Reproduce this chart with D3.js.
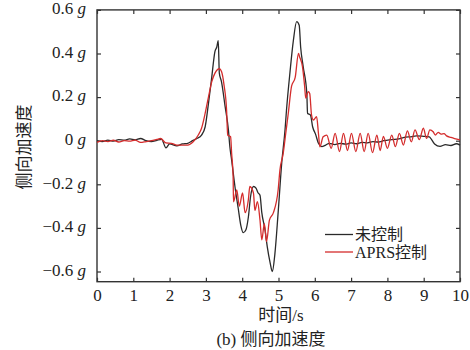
<!DOCTYPE html>
<html><head><meta charset="utf-8">
<script src="https://cdn.jsdelivr.net/npm/d3@7"></script>
<style>
html,body{margin:0;padding:0;background:#fff;}
svg{display:block;}
text{font-family:"Liberation Serif","Noto Sans CJK SC",serif;fill:#222;}
</style></head>
<body>
<svg id="chart" width="470" height="350"></svg>
<script>
// ---- data ----
const xTicks = [0,1,2,3,4,5,6,7,8,9,10];
const yTicks = [-0.6,-0.4,-0.2,0,0.2,0.4,0.6];
const yTickLabels = ["\u22120.6","\u22120.4","\u22120.2","0","0.2","0.4","0.6"];
const seriesNames = ["未控制","APRS控制"];

const blackT = [0,0.15,0.3,0.45,0.6,0.75,0.9,1.05,1.2,1.35,1.5,1.65,1.78,1.9,2.0,2.2,2.35,2.5,2.63,2.75,2.88,2.98,3.07,3.16,3.25,3.30,3.34,3.37,3.43,3.53,3.62,3.66,3.71,3.80,3.89,3.96,4.03,4.10,4.17,4.23,4.31,4.38,4.44,4.49,4.54,4.63,4.69,4.77,4.83,4.90,4.99,5.09,5.18,5.22,5.32,5.41,5.50,5.57,5.61,5.68,5.78,5.80,5.88,5.94,6.02,6.10,6.19,6.3,6.4,6.55,6.7,6.85,7.0,7.15,7.3,7.45,7.6,7.75,7.9,8.05,8.2,8.35,8.5,8.65,8.8,9.0,9.15,9.3,9.45,9.6,9.75,9.9,10];
const blackV = [0,-0.004,0.003,-0.002,0.005,0.002,0.008,0.004,0.010,0.000,-0.004,0.002,0.006,-0.033,-0.015,-0.024,-0.015,-0.012,0.000,0.010,0.026,0.064,0.17,0.29,0.41,0.43,0.459,0.31,0.27,0.156,0.05,-0.028,-0.09,-0.21,-0.31,-0.387,-0.422,-0.41,-0.35,-0.257,-0.21,-0.218,-0.24,-0.25,-0.33,-0.41,-0.486,-0.56,-0.60,-0.52,-0.33,-0.10,0.05,0.14,0.32,0.46,0.546,0.53,0.43,0.34,0.217,0.126,0.118,0.064,0.03,-0.012,-0.027,-0.02,-0.012,-0.018,-0.012,-0.016,-0.01,-0.014,-0.008,-0.01,-0.004,-0.006,0.0,0.004,0.006,0.01,0.016,0.018,0.022,0.02,0.018,-0.015,-0.026,-0.018,-0.022,-0.014,-0.02];

const redT = [0,0.15,0.3,0.45,0.6,0.75,0.9,1.05,1.2,1.35,1.5,1.65,1.75,1.9,2.05,2.2,2.35,2.5,2.65,2.79,2.88,2.98,3.07,3.16,3.25,3.37,3.43,3.50,3.57,3.60,3.68,3.71,3.75,3.76,3.85,3.92,4.01,4.08,4.17,4.21,4.31,4.35,4.42,4.49,4.54,4.61,4.67,4.75,4.86,4.99,5.04,5.13,5.20,5.27,5.36,5.46,5.55,5.58,5.66,5.72,5.75,5.82,5.86,5.91,5.96,6.05,6.10,6.14,6.23,6.33,6.45,6.56,6.68,6.79,6.90,7.01,7.13,7.25,7.36,7.47,7.59,7.71,7.80,7.89,8.00,8.12,8.22,8.33,8.44,8.55,8.66,8.76,8.88,8.99,9.08,9.17,9.26,9.32,9.40,9.48,9.56,9.63,9.75,9.85,10];
const redV = [-0.008,0.0,-0.004,0.002,-0.006,0.0,-0.002,0.003,-0.008,-0.004,0.000,0.006,0.010,-0.010,-0.012,-0.020,-0.020,-0.020,-0.005,0.026,0.057,0.126,0.20,0.27,0.31,0.33,0.317,0.255,0.14,0.026,0.018,-0.06,-0.165,-0.28,-0.226,-0.30,-0.24,-0.33,-0.27,-0.21,-0.24,-0.32,-0.28,-0.364,-0.455,-0.38,-0.463,-0.364,-0.33,-0.226,-0.134,-0.058,0.034,0.126,0.25,0.29,0.40,0.385,0.34,0.25,0.195,0.225,0.217,0.118,0.095,0.11,0.034,-0.028,0.018,0.026,-0.035,0.034,-0.05,0.034,-0.045,0.034,-0.05,0.034,-0.05,0.034,-0.055,0.026,-0.045,0.02,-0.035,0.026,-0.027,0.034,-0.02,0.045,-0.005,0.05,0.005,0.057,0.011,0.05,0.041,0.026,0.038,0.03,0.032,0.022,0.015,0.01,0.004];

// ---- chart ----
const svg = d3.select("#chart");
const x = d3.scaleLinear().domain([0,10]).range([97,460]);
const y = d3.scaleLinear().domain([-0.6468,0.6]).range([281.7,9.9]);

// frame
svg.append("rect").attr("x",x(0)).attr("y",y(0.6)).attr("width",x(10)-x(0)).attr("height",y(-0.6468)-y(0.6))
  .attr("fill","none").attr("stroke","#333").attr("stroke-width",1.4);

const tickLen = 4;
// bottom axis
const gB = svg.append("g").attr("transform",`translate(0,${y(-0.6468)})`)
  .call(d3.axisBottom(x).tickValues(xTicks).tickSizeInner(-tickLen).tickSizeOuter(0).tickPadding(7).tickFormat(d3.format("d")));
gB.select(".domain").remove();
gB.selectAll("text").attr("font-size",17).attr("font-family","Liberation Serif").attr("fill","#222");
// top axis
const gT = svg.append("g").attr("transform",`translate(0,${y(0.6)})`)
  .call(d3.axisTop(x).tickValues(xTicks).tickSizeInner(-tickLen).tickSizeOuter(0).tickFormat(""));
gT.select(".domain").remove();
// left axis
const gL = svg.append("g").attr("transform",`translate(${x(0)},0)`)
  .call(d3.axisLeft(y).tickValues(yTicks).tickSizeInner(-tickLen).tickSizeOuter(0).tickPadding(11).tickFormat((d,i)=>yTickLabels[i]));
gL.select(".domain").remove();
gL.selectAll("text").attr("font-size",17).attr("font-family","Liberation Serif").attr("fill","#222").attr("dy","0.22em")
  .append("tspan").attr("font-style","italic").text(" g");
// right axis
const gR = svg.append("g").attr("transform",`translate(${x(10)},0)`)
  .call(d3.axisRight(y).tickValues(yTicks).tickSizeInner(-tickLen).tickSizeOuter(0).tickFormat(""));
gR.select(".domain").remove();
svg.selectAll(".tick line").attr("stroke","#333").attr("stroke-width",1.2);

// lines
const line = d3.line().x(d=>x(d[0])).y(d=>y(d[1])).curve(d3.curveMonotoneX);
const blackData = blackT.map((t,i)=>[t,blackV[i]]);
const redData = redT.map((t,i)=>[t,redV[i]]);
svg.append("path").datum(blackData).attr("d",line).attr("fill","none").attr("stroke","#2a2a2a").attr("stroke-width",1.3);
svg.append("path").datum(redData).attr("d",line).attr("fill","none").attr("stroke","#d42c2c").attr("stroke-width",1.3);

// legend
const legColors = ["#2a2a2a","#d42c2c"];
seriesNames.forEach((name,i)=>{
  const ly = 234.5 + i*17.5;
  svg.append("line").attr("x1",325).attr("x2",353).attr("y1",ly).attr("y2",ly).attr("stroke",legColors[i]).attr("stroke-width",1.3);
  svg.append("text").attr("x",355).attr("y",ly+5.5).attr("font-size",16).text(name);
});

// axis titles
svg.append("text").attr("x",281).attr("y",321).attr("text-anchor","middle").attr("font-size",17).text("时间/s");
svg.append("text").attr("x",271).attr("y",345).attr("text-anchor","middle").attr("font-size",17).text("(b) 侧向加速度");
svg.append("text").attr("transform","translate(30,147) rotate(-90)").attr("text-anchor","middle").attr("font-size",17).text("侧向加速度");
</script>
</body></html>
